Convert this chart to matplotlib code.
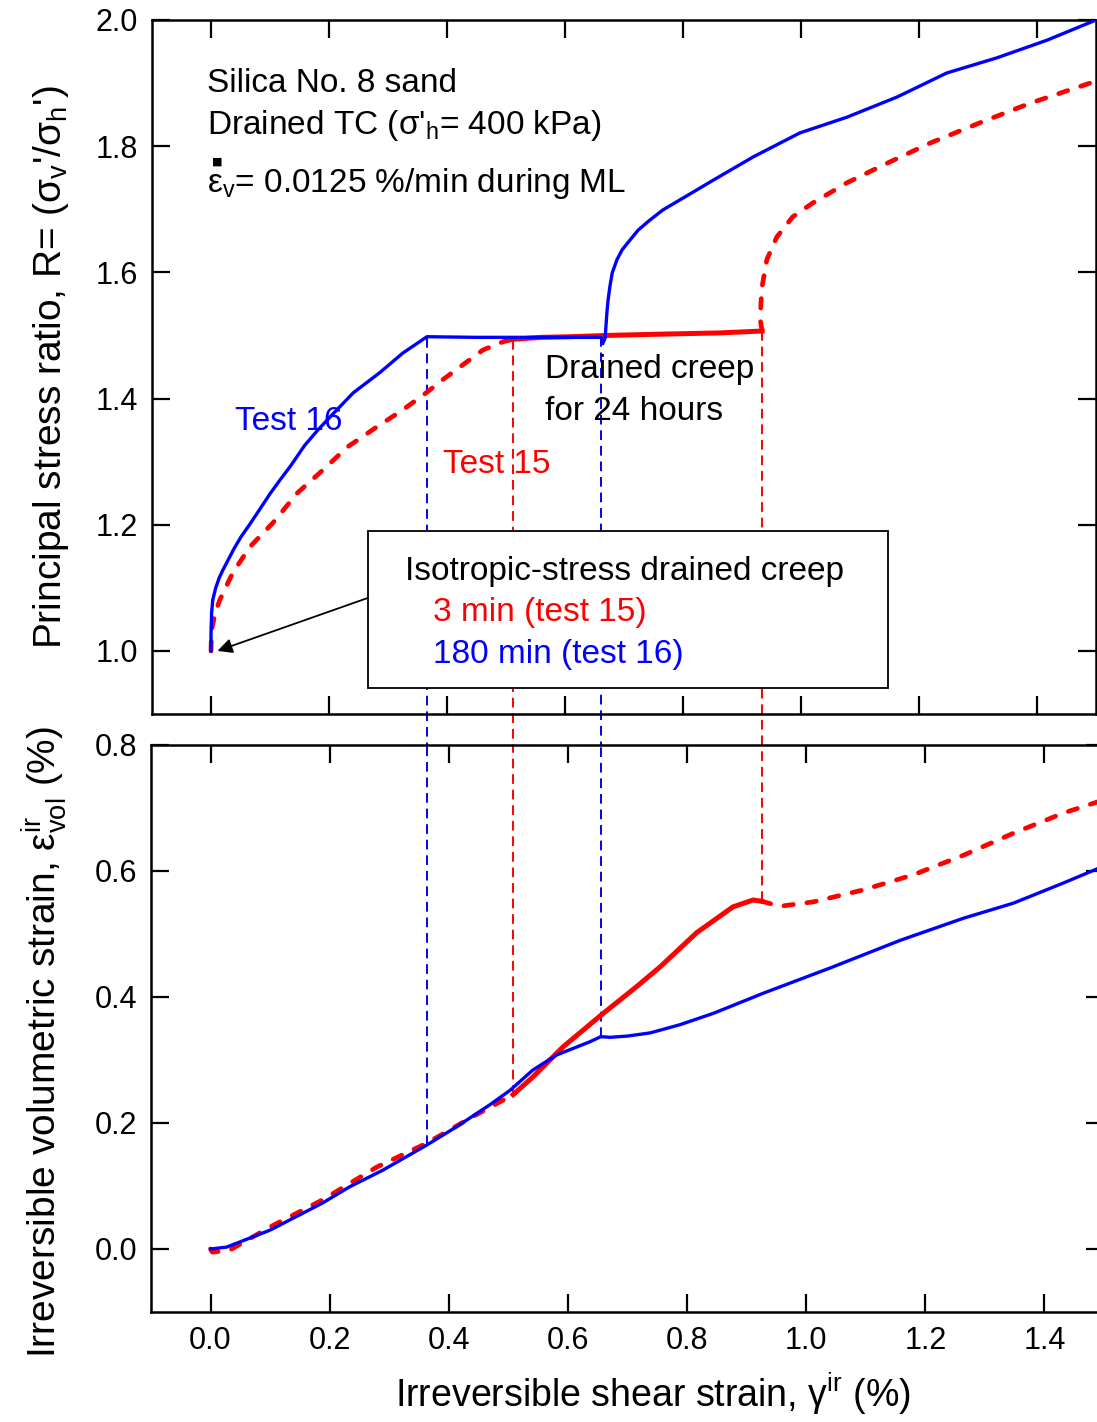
import numpy as np
import matplotlib
matplotlib.use("Agg")
import matplotlib.pyplot as plt
from matplotlib.patches import Rectangle
from matplotlib.transforms import blended_transform_factory

plt.rcParams['font.family'] = ['Liberation Sans', 'DejaVu Sans']
plt.rcParams['mathtext.fontset'] = 'custom'
plt.rcParams['mathtext.rm'] = 'Liberation Sans'
plt.rcParams['mathtext.it'] = 'Liberation Sans'
plt.rcParams['mathtext.bf'] = 'Liberation Sans:bold'

BLUE = '#0000ff'
RED = '#ff0000'

# ---- data ----
# Test 16 (180 min isotropic creep): stress ratio R vs irreversible shear strain (%)
t16_g_top = [0.0, 0.0, 0.001, 0.003, 0.008, 0.014, 0.020, 0.029, 0.039, 0.051,
             0.066, 0.083, 0.100, 0.117, 0.134, 0.159, 0.181, 0.202, 0.241, 0.286,
             0.325, 0.366, 0.45, 0.55, 0.661, 0.664, 0.668, 0.671, 0.673, 0.676,
             0.680, 0.688, 0.697, 0.710, 0.724, 0.744, 0.766, 0.795, 0.824, 0.851,
             0.919, 0.998, 1.078, 1.163, 1.247, 1.332, 1.417, 1.50]
t16_R = [1.0, 1.025, 1.060, 1.081, 1.100, 1.116, 1.128, 1.144, 1.162, 1.181,
         1.201, 1.225, 1.249, 1.271, 1.292, 1.326, 1.350, 1.371, 1.409, 1.441,
         1.472, 1.498, 1.497, 1.497, 1.497, 1.487, 1.496, 1.536, 1.556, 1.577,
         1.599, 1.620, 1.636, 1.651, 1.667, 1.683, 1.699, 1.715, 1.731, 1.746,
         1.783, 1.821, 1.846, 1.878, 1.916, 1.940, 1.968, 2.0]

# Test 15 (3 min isotropic creep): loading / 24 h creep / reloading
t15_g_load = [0.0, 0.001, 0.007, 0.015, 0.037, 0.066, 0.105, 0.146, 0.190, 0.231,
              0.281, 0.325, 0.366, 0.393, 0.461, 0.495, 0.512]
t15_R_load = [1.0, 1.033, 1.060, 1.081, 1.124, 1.165, 1.203, 1.250, 1.287, 1.323,
              1.355, 1.382, 1.410, 1.430, 1.477, 1.490, 1.494]
t15_g_creep = [0.512, 0.56, 0.61, 0.67, 0.76, 0.86, 0.934]
t15_R_creep = [1.494, 1.497, 1.498, 1.500, 1.502, 1.504, 1.507]
t15_g_reload = [0.934, 0.931, 0.932, 0.934, 0.942, 0.959, 0.986, 1.020, 1.078,
                1.146, 1.219, 1.303, 1.388, 1.490, 1.50]
t15_R_reload = [1.507, 1.525, 1.55, 1.577, 1.620, 1.656, 1.688, 1.710, 1.742,
                1.773, 1.805, 1.837, 1.868, 1.900, 1.903]

# irreversible volumetric strain (%) vs irreversible shear strain (%)
t16_g_bot = [0.0, 0.027, 0.10, 0.188, 0.234, 0.289, 0.363, 0.413, 0.469, 0.503,
             0.541, 0.581, 0.637, 0.655, 0.671, 0.70, 0.738, 0.788, 0.844, 0.928,
             1.04, 1.158, 1.264, 1.348, 1.432, 1.50]
t16_ev = [0.0, 0.003, 0.03, 0.073, 0.099, 0.125, 0.165, 0.194, 0.229, 0.252,
          0.284, 0.308, 0.329, 0.337, 0.336, 0.338, 0.343, 0.356, 0.374, 0.406,
          0.446, 0.49, 0.525, 0.549, 0.581, 0.608]

t15_g_bload = [0.0, 0.003, 0.032, 0.10, 0.188, 0.279, 0.363, 0.44, 0.508]
t15_ev_load = [0.0, -0.005, -0.002, 0.035, 0.078, 0.13, 0.168, 0.21, 0.245]
t15_g_bcreep = [0.508, 0.541, 0.592, 0.62, 0.654, 0.716, 0.755, 0.816, 0.877,
                0.911, 0.925]
t15_ev_creep = [0.245, 0.273, 0.321, 0.343, 0.370, 0.417, 0.448, 0.502, 0.543,
                0.554, 0.552]
t15_g_breload = [0.925, 0.956, 1.012, 1.096, 1.18, 1.264, 1.348, 1.432, 1.50]
t15_ev_reload = [0.552, 0.544, 0.551, 0.57, 0.594, 0.625, 0.66, 0.692, 0.713]

# start / end of the 24 h drained creep stages (shear strain, %)
t16_creep = [0.363, 0.655]
t15_creep = [0.508, 0.925]

xticks = [0.0, 0.2, 0.4, 0.6, 0.8, 1.0, 1.2, 1.4]
R_ticks = [1.0, 1.2, 1.4, 1.6, 1.8, 2.0]
ev_ticks = [0.0, 0.2, 0.4, 0.6, 0.8]

# ---- figure ----
W, H = 1097, 1422
fig = plt.figure(figsize=(W / 100, H / 100), dpi=100)
ax1 = fig.add_axes([152 / W, 1 - 714 / H, (1096 - 152) / W, (714 - 20) / H])
ax2 = fig.add_axes([151 / W, 1 - 1312 / H, (1104 - 151) / W, (1312 - 745) / H])

red_dash = dict(color=RED, lw=3.4, dashes=(2.0, 2.9), dash_capstyle='round')
guide = dict(lw=1.4, dashes=(5, 3))

# top panel
ax1.plot(t15_g_load, t15_R_load, **red_dash, zorder=3)
ax1.plot(t15_g_creep, t15_R_creep, color=RED, lw=3.6, zorder=3)
ax1.plot(t15_g_reload, t15_R_reload, **red_dash, zorder=3)
ax1.plot(t16_g_top, t16_R, color=BLUE, lw=2.4, zorder=4)

# bottom panel
ax2.plot(t15_g_bload, t15_ev_load, **red_dash, zorder=3)
ax2.plot(t15_g_bcreep, t15_ev_creep, color=RED, lw=3.6, zorder=3)
ax2.plot(t15_g_breload, t15_ev_reload, **red_dash, zorder=3)
ax2.plot(t16_g_bot, t16_ev, color=BLUE, lw=2.4, zorder=4)

# guide lines at start/end of creep, running through both panels
# (x taken in the lower panel's scale so the line is straight across the gap)
top_tr = blended_transform_factory(ax2.transData, ax1.transData)
t16_top_g = t16_g_top[:25]
t16_top_R = t16_R[:25]
t15_top_g = t15_g_load + t15_g_creep[1:]
t15_top_R = t15_R_load + t15_R_creep[1:]
t15_bot_g = t15_g_bload + t15_g_bcreep[1:]
t15_bot_e = t15_ev_load + t15_ev_creep[1:]
for g in t16_creep:
    r_top = np.interp(g, t16_top_g, t16_top_R)
    e_bot = np.interp(g, t16_g_bot, t16_ev)
    ax1.plot([g, g], [r_top, 0.80], color=BLUE, transform=top_tr, clip_on=False,
             zorder=2, **guide)
    ax2.plot([g, g], [e_bot, 0.8], color=BLUE, zorder=2, **guide)
for g in t15_creep:
    r_top = np.interp(g, t15_top_g, t15_top_R)
    e_bot = np.interp(g, t15_bot_g, t15_bot_e)
    ax1.plot([g, g], [r_top, 0.80], color=RED, transform=top_tr, clip_on=False,
             zorder=2, **guide)
    ax2.plot([g, g], [e_bot, 0.8], color=RED, zorder=2, **guide)

for ax in (ax1, ax2):
    ax.set_xlim(-0.1, 1.5)
    ax.set_xticks(xticks)
    ax.tick_params(direction='in', length=13, width=1.6, top=True, right=True,
                   labelsize=22, pad=10)
    for s in ax.spines.values():
        s.set_linewidth(1.8)

ax1.set_ylim(0.9, 2.0)
ax1.set_yticks(R_ticks)
ax1.set_yticklabels([f"{v:.1f}" for v in R_ticks])
ax1.tick_params(labelbottom=False)
ax2.set_ylim(-0.1, 0.8)
ax2.set_yticks(ev_ticks)
ax2.set_yticklabels([f"{v:.1f}" for v in ev_ticks])
ax2.set_xticklabels([f"{v:.1f}" for v in xticks])

ax1.set_ylabel("Principal stress ratio, R= (σ$_\\mathregular{v}$'/σ$_\\mathregular{h}$')",
               fontsize=28)
ax2.set_ylabel("Irreversible volumetric strain, ε$_\\mathregular{vol}^\\mathregular{ir}$ (%)",
               fontsize=28)
ax2.set_xlabel("Irreversible shear strain, γ$^\\mathregular{ir}$ (%)", fontsize=27)
ax1.yaxis.set_label_coords(-0.086, 0.5)
ax2.yaxis.set_label_coords(-0.086, 0.476)
ax2.xaxis.set_label_coords(0.527, -0.103)

# annotations, top panel
fs = 24
ax1.text(-0.007, 1.886, "Silica No. 8 sand", fontsize=fs)
ax1.text(-0.007, 1.819, "Drained TC (σ'$_\\mathregular{h}$= 400 kPa)", fontsize=fs)
ax1.text(-0.007, 1.727, "ε$_\\mathregular{v}$= 0.0125 %/min during ML", fontsize=fs)
ax1.text(0.010, 1.776, "■", fontsize=8, ha='center', va='center',
         family='DejaVu Sans')
ax1.text(0.041, 1.350, "Test 16", color=BLUE, fontsize=fs, zorder=6)
ax1.text(0.393, 1.282, "Test 15", color=RED, fontsize=fs, zorder=6)
ax1.text(0.566, 1.433, "Drained creep", fontsize=fs, zorder=6)
ax1.text(0.566, 1.366, "for 24 hours", fontsize=fs, zorder=6)

ax1.add_patch(Rectangle((0.266, 0.941), 1.147 - 0.266, 1.190 - 0.941,
                        facecolor='white', edgecolor='black', lw=1.3, zorder=5))
ax1.text(0.329, 1.1125, "Isotropic-stress drained creep", fontsize=fs, zorder=6)
ax1.text(0.376, 1.048, "3 min (test 15)", color=RED, fontsize=fs, zorder=6)
ax1.text(0.376, 0.981, "180 min (test 16)", color=BLUE, fontsize=fs, zorder=6)
ax1.annotate("", xy=(0.011, 1.0), xytext=(0.266, 1.084),
             arrowprops=dict(arrowstyle='-|>', color='black', lw=1.3,
                             mutation_scale=22, shrinkA=0, shrinkB=0),
             zorder=6)

fig.savefig("out.png", dpi=100)
